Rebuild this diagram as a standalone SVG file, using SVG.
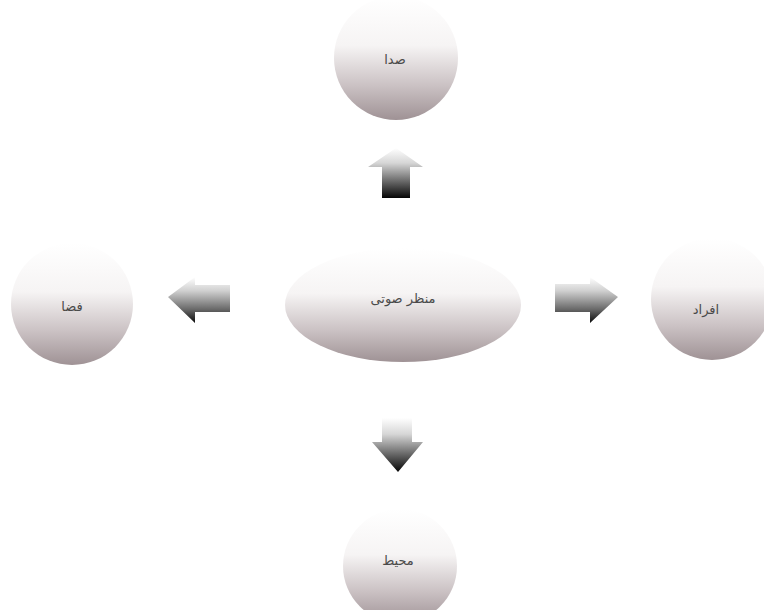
<svg xmlns="http://www.w3.org/2000/svg" width="764" height="610" viewBox="0 0 764 610">
<defs>
<linearGradient id="nodeFill" x1="0" y1="0" x2="0" y2="1">
<stop offset="0" stop-color="#ffffff"/>
<stop offset="0.4" stop-color="#f6f4f4"/>
<stop offset="0.72" stop-color="#cbc2c4"/>
<stop offset="1" stop-color="#9f9295"/>
</linearGradient>
<linearGradient id="arrV" x1="0" y1="0" x2="0" y2="1">
<stop offset="0" stop-color="#ffffff"/>
<stop offset="0.3" stop-color="#d6d6d6"/>
<stop offset="1" stop-color="#050505"/>
</linearGradient>
<linearGradient id="arrH" x1="0" y1="0" x2="0" y2="1">
<stop offset="0" stop-color="#ffffff"/>
<stop offset="0.3" stop-color="#d0d0d0"/>
<stop offset="0.7" stop-color="#6a6a6a"/>
<stop offset="1" stop-color="#0a0a0a"/>
</linearGradient>
</defs>
<style>
.node{fill:url(#nodeFill);}
.lbl{font-family:"DejaVu Sans",sans-serif;font-size:13px;fill:#4a4a4a;text-anchor:middle;dominant-baseline:central;}
</style>
<g id="connectors">
<polygon fill="url(#arrV)" points="396,148 423,167 410,167 410,198 382,198 382,167 368,167"/>
<polygon fill="url(#arrV)" points="382,418 412,418 412,442 423,442 398,472 372,442 382,442"/>
<polygon fill="url(#arrH)" points="168,297 195,277 195,285 230,285 230,312 195,312 195,323"/>
<polygon fill="url(#arrH)" points="618,297 590,277 590,284 555,284 555,312 590,312 590,323"/>
</g>
<g id="node-center">
<ellipse class="node" cx="403" cy="305" rx="118" ry="57"/>
<text class="lbl" x="403" y="298">منظر صوتی</text>
</g>
<g id="node-top">
<circle class="node" cx="396" cy="58" r="62"/>
<text class="lbl" x="395" y="59">صدا</text>
</g>
<g id="node-left">
<circle class="node" cx="72" cy="304" r="61"/>
<text class="lbl" x="72" y="306">فضا</text>
</g>
<g id="node-right">
<circle class="node" cx="712" cy="299" r="61"/>
<text class="lbl" x="706" y="309">افراد</text>
</g>
<g id="node-bottom">
<circle class="node" cx="400" cy="566" r="57"/>
<text class="lbl" x="398" y="560">محیط</text>
</g>
</svg>
